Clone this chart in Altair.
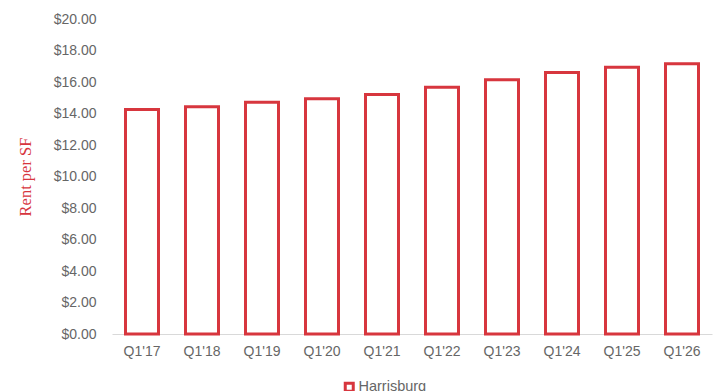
import altair as alt
import pandas as pd

# Quarterly average asking rent per square foot
quarters = ["Q1'17", "Q1'18", "Q1'19", "Q1'20", "Q1'21",
            "Q1'22", "Q1'23", "Q1'24", "Q1'25", "Q1'26"]
rents = [14.25, 14.43, 14.72, 14.93, 15.21, 15.67, 16.14, 16.60, 16.94, 17.16]
market = ["Harrisburg"] * len(quarters)

df = pd.DataFrame({"quarter": quarters, "rent": rents, "market": market})

RED = "#d7363e"
GRAY = "#666666"

chart = (
    alt.Chart(df)
    .mark_bar(fill="white", strokeWidth=3, strokeJoin="miter")
    .encode(
        x=alt.X(
            "quarter:N",
            sort=quarters,
            scale=alt.Scale(paddingInner=0.45, paddingOuter=0.225),
            axis=alt.Axis(
                title=None,
                labelAngle=0,
                labelFont="Liberation Sans",
                labelFontSize=14,
                labelColor=GRAY,
                labelPadding=10,
                ticks=False,
                domainColor="#d9d9d9",
                domainWidth=1,
                grid=False,
            ),
        ),
        y=alt.Y(
            "rent:Q",
            scale=alt.Scale(domain=[0, 20], nice=False),
            axis=alt.Axis(
                title="Rent per SF",
                titleFont="Liberation Serif",
                titleFontSize=16.5,
                titleFontWeight="normal",
                titleColor=RED,
                titlePadding=20,
                values=[0, 2, 4, 6, 8, 10, 12, 14, 16, 18, 20],
                format="$,.2f",
                labelFont="Liberation Sans",
                labelFontSize=14,
                labelColor=GRAY,
                labelPadding=16,
                ticks=False,
                domain=False,
                grid=False,
            ),
        ),
        stroke=alt.Stroke(
            "market:N",
            scale=alt.Scale(range=[RED]),
            legend=alt.Legend(
                title=None,
                orient="none",
                legendX=230,
                legendY=361,
                symbolType="square",
                symbolSize=64,
                symbolFillColor="white",
                symbolStrokeWidth=3,
                labelFont="Liberation Sans",
                labelFontSize=14.5,
                labelColor=GRAY,
                labelOffset=2,
            ),
        ),
    )
    .properties(
        width=600,
        height=315,
        background="white",
        autosize=alt.AutoSizeParams(type="none"),
        padding={"left": 112, "top": 19, "right": 6, "bottom": 57},
    )
    .configure_view(strokeWidth=0, stroke="transparent")
)

chart.save("out.html", embed_options={"renderer": "svg", "actions": False})
